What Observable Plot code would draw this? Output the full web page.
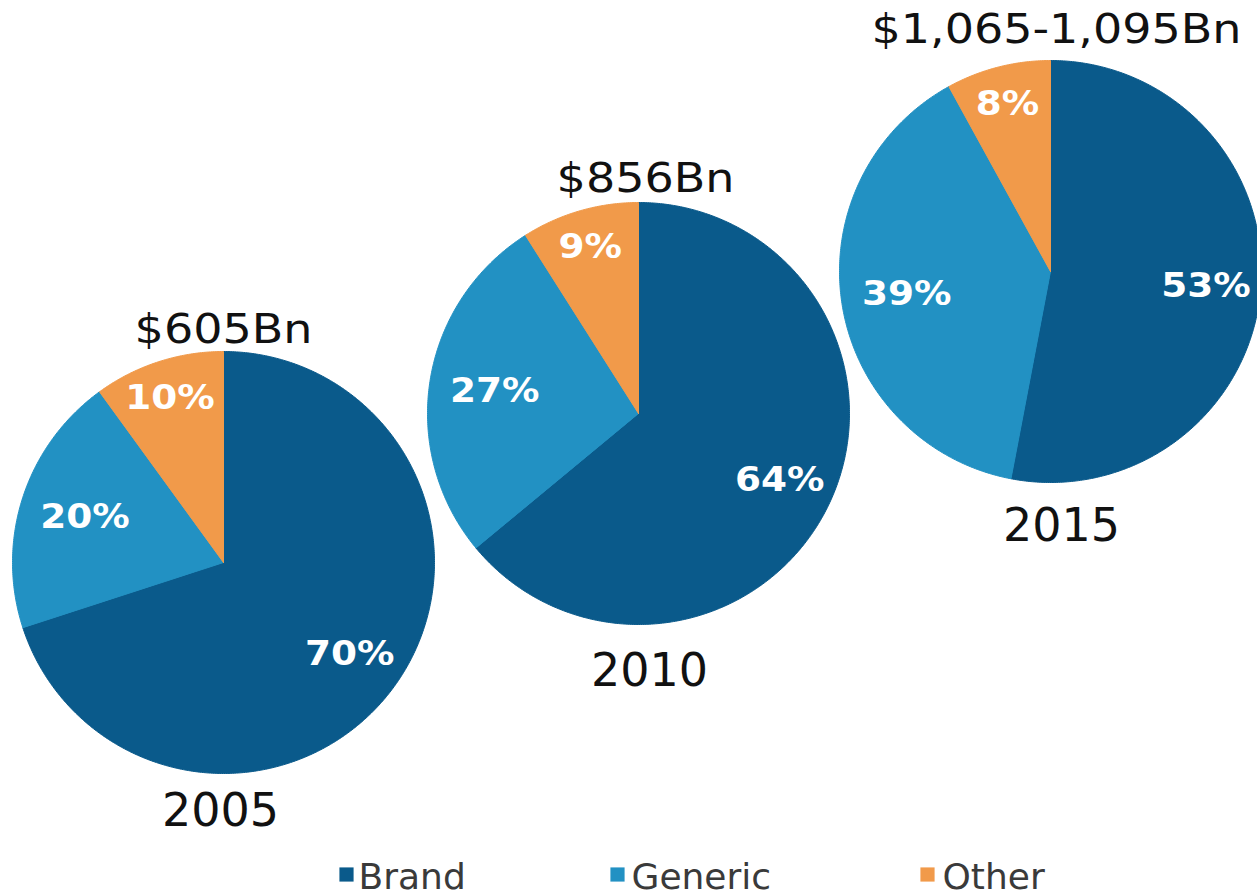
<!DOCTYPE html>
<html>
<head>
<meta charset="utf-8">
<script src="https://cdn.jsdelivr.net/npm/d3@7"></script>
<script src="https://cdn.jsdelivr.net/npm/@observablehq/plot@0.6"></script>
<style>
  html, body { margin: 0; padding: 0; background: #fff; overflow: hidden; }
</style>
</head>
<body>
<div id="chart"></div>
<script>
// ---------- data ----------
const years = [2005, 2010, 2015];
const totals = ["$605Bn", "$856Bn", "$1,065-1,095Bn"];
const categories = ["Brand", "Generic", "Other"];
const brandShare = [70, 64, 53];
const genericShare = [20, 27, 39];
const otherShare = [10, 9, 8];

// ---------- styles ----------
const colors = ["#0a5a8b", "#2291c3", "#f19a4a"];

// ---------- layout ----------
const W = 1257, H = 896;
const pieCx = [223, 638, 1050];
const pieCy = [562, 413, 271];
const pieR = 211;
const totalX = [223, 645, 1056];
const totalY = [342, 191, 42];
const yearX = [220, 649, 1061];
const yearY = [825, 685, 540];
const labelRadius = {Brand: 0.74, Generic: 0.69, Other: 0.82};
const legendSwatchX = [346, 617, 927];
const legendTextX = [358, 631, 942];
const legendSwatchY = 874;
const legendTextY = 888;

// ---------- build geometry from data ----------
const shares = [brandShare, genericShare, otherShare];
const pie = d3.pie().sort(null).value(d => d.value);
const slicePts = [];
const pctLabels = [];
years.forEach((yr, i) => {
  const arcs = pie(categories.map((c, j) => ({cat: c, value: shares[j][i]})));
  const cx = pieCx[i], cy = pieCy[i];
  const pt = (ang, rr) => ({x: cx + rr * Math.sin(ang), y: cy - rr * Math.cos(ang)});
  arcs.forEach(a => {
    const key = yr + "-" + a.data.cat;
    const cat = a.data.cat;
    slicePts.push({key, cat, ...pt(0, 0)});
    const n = Math.max(2, Math.ceil((a.endAngle - a.startAngle) / (Math.PI / 360)));
    for (let k = 0; k <= n; k++) {
      const ang = a.startAngle + (a.endAngle - a.startAngle) * k / n;
      slicePts.push({key, cat, ...pt(ang, pieR)});
    }
    slicePts.push({key, cat, ...pt(0, 0)});
    const mid = (a.startAngle + a.endAngle) / 2;
    pctLabels.push({text: a.data.value + "%", ...pt(mid, pieR * labelRadius[cat])});
  });
});
const totalLabels = years.map((y, i) => ({x: totalX[i], y: totalY[i], t: totals[i]}));
const yearLabels = years.map((y, i) => ({x: yearX[i], y: yearY[i], t: String(y)}));

const svg = Plot.plot({
  width: W,
  height: H,
  margin: 0,
  x: {domain: [0, W], range: [0, W], axis: null},
  y: {domain: [0, H], range: [0, H], axis: null},
  color: {domain: categories, range: colors},
  style: {background: "#fff"},
  marks: [
    Plot.line(slicePts, {x: "x", y: "y", z: "key", fill: "cat", stroke: "cat", strokeWidth: 1, curve: "linear"}),
    Plot.text(pctLabels, {x: "x", y: "y", text: "text", fill: "#ffffff", fontSize: 34, fontWeight: "bold", fontFamily: "DejaVu Sans", lineAnchor: "middle"}),
    Plot.text(totalLabels, {x: "x", y: "y", text: "t", fill: "#111111", fontSize: 40, fontFamily: "DejaVu Sans", lineAnchor: "bottom"}),
    Plot.text(yearLabels, {x: "x", y: "y", text: "t", fill: "#111111", fontSize: 46, fontFamily: "DejaVu Sans", lineAnchor: "bottom"}),
    Plot.dot(categories, {x: (d, i) => legendSwatchX[i], y: () => legendSwatchY, fill: d => d, symbol: "square", r: 8}),
    Plot.text(categories, {x: (d, i) => legendTextX[i], y: () => legendTextY, text: d => d, textAnchor: "start", fill: "#3a3a3a", fontSize: 36, fontFamily: "DejaVu Sans", lineAnchor: "bottom"})
  ]
});
document.getElementById("chart").append(svg);

// horizontal stretch of some text styles
const stretch = [1.1, 1.15, 1, 1];
svg.querySelectorAll('g[aria-label="text"]').forEach((g, gi) => {
  const k = stretch[gi];
  if (!k || k === 1) return;
  g.querySelectorAll("text").forEach(t => {
    const w = t.getComputedTextLength();
    t.setAttribute("textLength", w * k);
    t.setAttribute("lengthAdjust", "spacingAndGlyphs");
  });
});
</script>
</body>
</html>
